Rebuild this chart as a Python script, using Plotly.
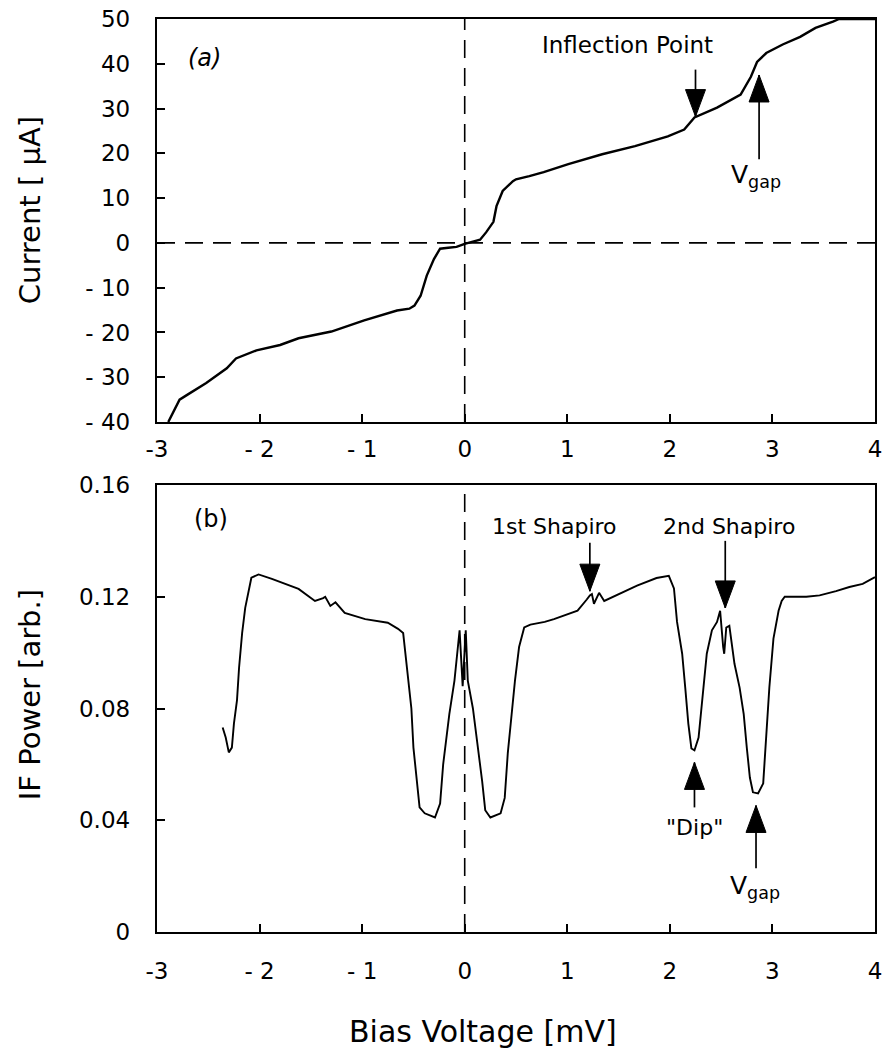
import plotly.graph_objects as go

# ---------------- data ----------------
iv_v = [-2.89, -2.78, -2.71, -2.52, -2.32, -2.23, -2.03, -1.80, -1.62, -1.30, -0.98, -0.82,
        -0.66, -0.54, -0.49, -0.43, -0.37, -0.30, -0.24, -0.16, -0.08, 0.0, 0.15, 0.21, 0.28,
        0.31, 0.37, 0.47, 0.50, 0.63, 0.77, 1.01, 1.34, 1.66, 1.98, 2.14, 2.24, 2.46, 2.69,
        2.79, 2.85, 2.94, 3.10, 3.27, 3.42, 3.59, 3.65, 4.0]
iv_i = [-40.0, -35.0, -34.0, -31.3, -28.0, -25.8, -24.0, -22.8, -21.3, -19.8, -17.3, -16.2,
        -15.1, -14.7, -14.0, -11.8, -7.3, -3.6, -1.3, -1.1, -0.9, -0.2, 0.7, 2.4, 4.7,
        8.2, 11.6, 13.8, 14.2, 14.9, 15.8, 17.6, 19.8, 21.6, 23.8, 25.3, 28.0, 30.2, 33.1,
        37.1, 40.4, 42.4, 44.3, 46.0, 48.0, 49.4, 50.0, 50.0]

if_v = [-2.36, -2.33, -2.30, -2.27, -2.25, -2.22, -2.20, -2.17, -2.14, -2.08, -2.01, -1.88,
        -1.62, -1.46, -1.38, -1.36, -1.31, -1.26, -1.17, -0.97, -0.75, -0.65, -0.60, -0.57,
        -0.52, -0.50, -0.47, -0.44, -0.39, -0.29, -0.24, -0.21, -0.15, -0.10, -0.05, -0.02,
        0.01, 0.03, 0.08, 0.13, 0.17, 0.20, 0.25, 0.35, 0.39, 0.42, 0.49, 0.53, 0.58, 0.64,
        0.78, 0.87, 1.10, 1.19, 1.22, 1.24, 1.26, 1.31, 1.36, 1.68, 1.87, 1.99, 2.04, 2.07,
        2.12, 2.15, 2.18, 2.21, 2.24, 2.28, 2.33, 2.36, 2.41, 2.46, 2.49, 2.50, 2.52, 2.53,
        2.55, 2.58, 2.63, 2.68, 2.72, 2.75, 2.78, 2.81, 2.86, 2.91, 2.94, 2.97, 3.01, 3.06,
        3.09, 3.12, 3.33, 3.46, 3.62, 3.75, 3.88, 4.0]
if_p = [0.0732, 0.0696, 0.0643, 0.0660, 0.0746, 0.0830, 0.0946, 0.1070, 0.1160, 0.1268, 0.1280, 0.1264,
        0.1228, 0.1185, 0.1195, 0.1200, 0.1167, 0.1180, 0.1142, 0.1120, 0.1107, 0.1085, 0.1070, 0.0970,
        0.0800, 0.0660, 0.0540, 0.0446, 0.0425, 0.0410, 0.0460, 0.0600, 0.0780, 0.0900, 0.1080, 0.0880,
        0.1080, 0.0900, 0.0800, 0.0660, 0.0540, 0.0436, 0.0410, 0.0425, 0.0480, 0.0640, 0.0900, 0.1020, 0.1090, 0.1100,
        0.1110, 0.1120, 0.1150, 0.1190, 0.1205, 0.1210, 0.1175, 0.1214, 0.1185, 0.1240, 0.1267, 0.1275, 0.1230, 0.1110,
        0.0996, 0.0875, 0.0746, 0.0657, 0.0650, 0.0696, 0.0875, 0.0996, 0.1080, 0.1110, 0.1150, 0.1100, 0.1020, 0.0996,
        0.1090, 0.1096, 0.0960, 0.0875, 0.0780, 0.0660, 0.0553, 0.0500, 0.0496, 0.0532, 0.0696, 0.0875, 0.1050, 0.1150,
        0.1185, 0.1200, 0.1200, 0.1205, 0.1220, 0.1235, 0.1246, 0.1270]

x_tickvals = [-3, -2, -1, 0, 1, 2, 3, 4]
x_ticktext = ["-3", "- 2", "- 1", "0", "1", "2", "3", "4"]
i_tickvals = [50, 40, 30, 20, 10, 0, -10, -20, -30, -40]
i_ticktext = ["50", "40", "30", "20", "10", "0", "- 10", "- 20", "- 30", "- 40"]
p_tickvals = [0, 0.04, 0.08, 0.12, 0.16]
p_ticktext = ["0", "0.04", "0.08", "0.12", "0.16"]

# ---------------- layout geometry ----------------
W, H = 888, 1053
ML, MR, MT, MB = 157, 6, 19, 121
PW, PH = W - ML - MR, H - MT - MB

def py(y):  # pixel row -> paper y
    return (H - MB - y) / PH

def px(x):  # pixel column -> paper x
    return (x - ML) / PW

FONT = "DejaVu Sans"

fig = go.Figure()
fig.add_trace(go.Scatter(x=iv_v, y=iv_i, mode="lines", line=dict(color="black", width=2.4),
                         xaxis="x", yaxis="y", showlegend=False))
fig.add_trace(go.Scatter(x=if_v, y=if_p, mode="lines", line=dict(color="black", width=1.9),
                         xaxis="x2", yaxis="y2", showlegend=False))

# dashed zero lines
dash = "18px,10px"
fig.add_trace(go.Scatter(x=[0, 0], y=[-40, 50], mode="lines", line=dict(color="black", width=1.6, dash=dash),
                         xaxis="x", yaxis="y", showlegend=False))
fig.add_trace(go.Scatter(x=[-3, 4], y=[0, 0], mode="lines", line=dict(color="black", width=1.6, dash=dash),
                         xaxis="x", yaxis="y", showlegend=False))
fig.add_trace(go.Scatter(x=[0, 0], y=[0, 0.16], mode="lines", line=dict(color="black", width=1.6, dash=dash),
                         xaxis="x2", yaxis="y2", showlegend=False))

axis_common = dict(showline=True, linecolor="black", linewidth=2.4, mirror=True, ticks="inside",
                   ticklen=8, tickwidth=2, tickcolor="black", showgrid=False, zeroline=False,
                   tickfont=dict(family=FONT, size=23, color="black"))

top_dom = [py(422), 1.0]
bot_dom = [0.0, py(485)]

fig.update_layout(
    width=W, height=H,
    margin=dict(l=ML, r=MR, t=MT, b=MB),
    paper_bgcolor="white", plot_bgcolor="white",
    font=dict(family=FONT, color="black"),
    xaxis=dict(range=[-3, 4], domain=[0, 1], anchor="y", tickvals=x_tickvals, ticktext=x_ticktext,
               ticklabelstandoff=5, **axis_common),
    yaxis=dict(range=[-40, 50], domain=top_dom, anchor="x", tickvals=i_tickvals, ticktext=i_ticktext,
               ticklabelstandoff=20, **axis_common),
    xaxis2=dict(range=[-3, 4], domain=[0, 1], anchor="y2", tickvals=x_tickvals, ticktext=x_ticktext,
                ticklabelstandoff=17, **axis_common),
    yaxis2=dict(range=[0, 0.16], domain=bot_dom, anchor="x2", tickvals=p_tickvals, ticktext=p_ticktext,
                ticklabelstandoff=20, **axis_common),
)

ann = []
# axis titles
ann.append(dict(text="Current [ µA]", xref="paper", yref="paper", x=px(29), y=py(210), textangle=-90,
                showarrow=False, font=dict(size=29, family=FONT), xanchor="center", yanchor="middle"))
ann.append(dict(text="IF Power [arb.]", xref="paper", yref="paper", x=px(29), y=py(695), textangle=-90,
                showarrow=False, font=dict(size=29, family=FONT), xanchor="center", yanchor="middle"))
ann.append(dict(text="Bias Voltage [mV]", xref="paper", yref="paper", x=px(486), y=py(1031),
                showarrow=False, font=dict(size=30, family=FONT), xanchor="center", yanchor="middle"))

tf = dict(size=22, family=FONT, color="black")
# panel (a)
ann.append(dict(text="<i>(a)</i>", xref="x", yref="y", x=-2.54, y=41.3, showarrow=False, font=dict(size=24, family=FONT)))
ann.append(dict(text="Inflection Point", xref="x", yref="y", x=1.59, y=44.2, showarrow=False, font=dict(size=23, family=FONT)))
ann.append(dict(text="V<sub>gap</sub>", xref="x", yref="y", x=2.84, y=15.0, showarrow=False, font=dict(size=25, family=FONT)))
# panel (b)
ann.append(dict(text="(b)", xref="x2", yref="y2", x=-2.47, y=0.1478, showarrow=False, font=dict(size=24, family=FONT)))
ann.append(dict(text="1st Shapiro", xref="x2", yref="y2", x=0.88, y=0.1453, showarrow=False, font=tf))
ann.append(dict(text="2nd Shapiro", xref="x2", yref="y2", x=2.58, y=0.1453, showarrow=False, font=tf))
ann.append(dict(text="\"Dip\"", xref="x2", yref="y2", x=2.24, y=0.0375, showarrow=False, font=tf))
ann.append(dict(text="V<sub>gap</sub>", xref="x2", yref="y2", x=2.83, y=0.0160, showarrow=False, font=dict(size=25, family=FONT)))
fig.update_layout(annotations=ann)

# arrows drawn as shapes: shaft in data coords + filled triangular head sized in pixels
HEAD_L, HEAD_HW = 27, 10

def add_arrow(xr, yr, x, y_tip, y_tail):
    fig.add_shape(type="line", xref=xr, yref=yr, x0=x, x1=x, y0=y_tail, y1=y_tip,
                  line=dict(color="black", width=1.7))
    s = 1 if y_tail > y_tip else -1  # head base lies towards the tail
    path = f"M0,0 L{-HEAD_HW},{s * HEAD_L} L{HEAD_HW},{s * HEAD_L} Z"
    fig.add_shape(type="path", xref=xr, yref=yr, xsizemode="pixel", ysizemode="pixel",
                  xanchor=x, yanchor=y_tip, path=path,
                  fillcolor="black", line=dict(color="black", width=1))

add_arrow("x", "y", 2.25, 28.2, 38.7)
add_arrow("x", "y", 2.87, 37.5, 18.7)
add_arrow("x2", "y2", 1.22, 0.122, 0.1393)
add_arrow("x2", "y2", 2.54, 0.116, 0.140)
add_arrow("x2", "y2", 2.24, 0.0607, 0.0446)
add_arrow("x2", "y2", 2.84, 0.0453, 0.0228)

fig.write_html("out.html")
